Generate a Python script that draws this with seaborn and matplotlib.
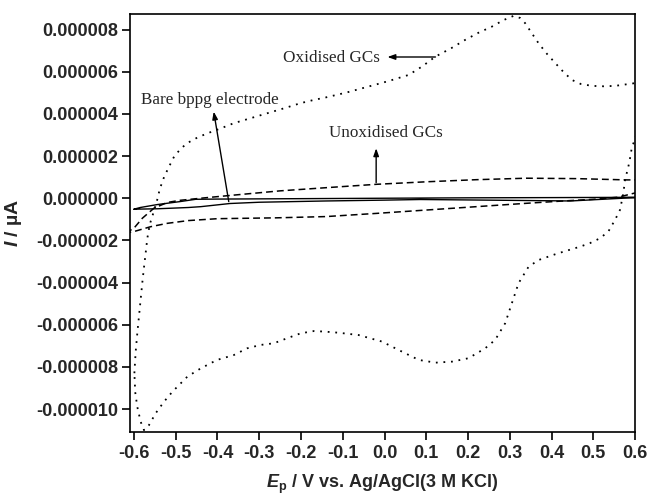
import numpy as np
import pandas as pd
import matplotlib
matplotlib.use("Agg")
import matplotlib.pyplot as plt
import seaborn as sns

# Cyclic voltammograms, potential E (V) and current I (A, values given in µA units)
# Oxidised GCs (dotted loop)
ox_e = [-0.599, -0.596, -0.592, -0.586, -0.580, -0.575, -0.572, -0.568, -0.564, -0.560,
        -0.552, -0.544, -0.538, -0.528, -0.516, -0.504, -0.488, -0.472, -0.448, -0.424,
        -0.390, -0.361, -0.320, -0.281, -0.240, -0.201, -0.170, -0.141, -0.090, -0.038,
        0.010, 0.058, 0.090, 0.122, 0.160, 0.193, 0.225, 0.257, 0.285, 0.309,
        0.325, 0.337, 0.352, 0.369, 0.389, 0.409, 0.429, 0.449, 0.470, 0.497,
        0.525, 0.552, 0.578, 0.600, 0.625, 0.625,
        0.600, 0.596, 0.592, 0.588, 0.584, 0.576, 0.572, 0.564, 0.552, 0.536,
        0.516, 0.492, 0.468, 0.441, 0.410, 0.369, 0.345, 0.321, 0.305, 0.289,
        0.265, 0.241, 0.201, 0.162, 0.122, 0.082, 0.034, -0.006, -0.062, -0.110,
        -0.141, -0.169, -0.201, -0.233, -0.265, -0.297, -0.329, -0.361, -0.401, -0.440,
        -0.472, -0.492, -0.508, -0.528, -0.548, -0.564, -0.576, -0.584, -0.592, -0.597,
        -0.599]
ox_i = [-8.3, -7.3, -6.4, -5.2, -4.0, -3.1, -2.6, -1.9, -1.45, -1.1,
        -0.6, -0.05, 0.45, 1.0, 1.5, 1.97, 2.35, 2.62, 2.88, 3.08,
        3.33, 3.56, 3.80, 4.03, 4.27, 4.51, 4.66, 4.78, 5.02, 5.30,
        5.56, 5.85, 6.25, 6.72, 7.12, 7.51, 7.85, 8.14, 8.45, 8.65,
        8.55, 8.30, 7.85, 7.35, 6.85, 6.41, 5.98, 5.61, 5.42, 5.33,
        5.31, 5.33, 5.40, 5.46, 5.50, 4.00,
        2.85, 2.60, 2.37, 1.90, 1.50, 0.87, 0.24, -0.55, -1.03, -1.58,
        -1.90, -2.13, -2.30, -2.46, -2.65, -2.93, -3.25, -4.03, -4.98, -5.93,
        -6.72, -7.12, -7.59, -7.75, -7.80, -7.67, -7.20, -6.80, -6.49, -6.38,
        -6.33, -6.30, -6.41, -6.64, -6.88, -6.96, -7.12, -7.44, -7.67, -8.07,
        -8.46, -8.86, -9.18, -9.65, -10.2, -10.76, -11.0, -10.6, -9.9, -9.2,
        -8.3]

# Unoxidised GCs (dashed loop)
unox_e = [-0.620, -0.600, -0.580, -0.552, -0.520, -0.490, -0.430, -0.360, -0.250, -0.140,
          -0.020, 0.100, 0.220, 0.340, 0.460, 0.580, 0.630,
          0.630, 0.600, 0.560, 0.500, 0.420, 0.340, 0.220, 0.100, -0.020, -0.140,
          -0.260, -0.400, -0.470, -0.520, -0.560, -0.600, -0.620]
unox_i = [-1.65, -1.42, -0.95, -0.47, -0.20, -0.10, 0.02, 0.15, 0.35, 0.50,
          0.66, 0.78, 0.88, 0.95, 0.93, 0.87, 0.87,
          0.40, 0.25, 0.05, -0.05, -0.14, -0.24, -0.40, -0.56, -0.72, -0.87,
          -0.93, -0.97, -1.06, -1.19, -1.35, -1.58, -1.65]

# Bare bppg electrode (solid loop)
bare_e = [-0.600, -0.585, -0.544, -0.490, -0.452, -0.400, -0.300, -0.200, 0.000, 0.200,
          0.400, 0.550, 0.600,
          0.600, 0.570, 0.445, 0.300, 0.086, 0.000, -0.141, -0.300, -0.370, -0.440,
          -0.470, -0.544, -0.600]
bare_i = [-0.52, -0.44, -0.30, -0.16, -0.05, -0.04, -0.03, -0.02, 0.00, 0.02,
          0.03, 0.04, 0.05,
          0.02, 0.00, -0.13, -0.10, -0.06, -0.09, -0.13, -0.19, -0.25, -0.40,
          -0.44, -0.50, -0.52]

x_ticks = [-0.6, -0.5, -0.4, -0.3, -0.2, -0.1, 0.0, 0.1, 0.2, 0.3, 0.4, 0.5, 0.6]
x_tick_labels = ["-0.6", "-0.5", "-0.4", "-0.3", "-0.2", "-0.1", "0.0",
                 "0.1", "0.2", "0.3", "0.4", "0.5", "0.6"]
y_ticks = [-10e-6, -8e-6, -6e-6, -4e-6, -2e-6, 0.0, 2e-6, 4e-6, 6e-6, 8e-6]
y_tick_labels = ["-0.000010", "-0.000008", "-0.000006", "-0.000004", "-0.000002",
                 "0.000000", "0.000002", "0.000004", "0.000006", "0.000008"]

sns.set_style("ticks")
plt.rcParams["font.family"] = ["Liberation Sans", "DejaVu Sans"]
plt.rcParams["mathtext.fontset"] = "custom"
plt.rcParams["mathtext.it"] = "Liberation Sans:italic:bold"
plt.rcParams["mathtext.rm"] = "Liberation Sans:bold"
plt.rcParams["mathtext.bf"] = "Liberation Sans:bold"

curves = pd.concat([
    pd.DataFrame({"E": ox_e, "I": np.array(ox_i) * 1e-6, "sample": "Oxidised GCs"}),
    pd.DataFrame({"E": unox_e, "I": np.array(unox_i) * 1e-6, "sample": "Unoxidised GCs"}),
    pd.DataFrame({"E": bare_e, "I": np.array(bare_i) * 1e-6, "sample": "Bare bppg electrode"}),
], ignore_index=True)

line_styles = {
    "Oxidised GCs": dict(linestyle=(0, (1, 3.2)), linewidth=1.3),
    "Unoxidised GCs": dict(linestyle=(0, (4.5, 2.6)), linewidth=1.1),
    "Bare bppg electrode": dict(linestyle="-", linewidth=1.0),
}

fig = plt.figure(figsize=(6.5, 4.96), dpi=100)
ax = fig.add_axes([0.2, 0.129, 0.777, 0.843])

for name, sub in curves.groupby("sample", sort=False):
    sns.lineplot(data=sub, x="E", y="I", sort=False, estimator=None,
                 color="black", ax=ax, **line_styles[name])

ax.set_xlim(-0.6095, 0.6)
ax.set_ylim(-11.09e-6, 8.745e-6)
ax.set_xticks(x_ticks)
ax.set_xticklabels(x_tick_labels)
ax.set_yticks(y_ticks)
ax.set_yticklabels(y_tick_labels)
for lab in ax.get_xticklabels() + ax.get_yticklabels():
    lab.set_fontweight("bold")
    lab.set_fontsize(13)
ax.tick_params(axis="both", direction="out", length=5.5, width=1.2, color="black", pad=3)
ax.tick_params(axis="x", pad=4)
for s in ax.spines.values():
    s.set_visible(True)
    s.set_linewidth(1.2)
    s.set_color("black")

ax.set_xlabel(r"$E_{\mathrm{p}}$ / V vs. Ag/AgCl(3 M KCl)", fontsize=13, fontweight="bold")
ax.set_ylabel(r"$I$ / µA", fontsize=14, fontweight="bold")
ax.xaxis.set_label_coords(0.5, -0.097)
ax.yaxis.set_label_coords(-0.21, 0.5)

serif = ["Liberation Serif", "DejaVu Serif"]
arrow = dict(arrowstyle="-|>,head_length=0.45,head_width=0.16", color="black",
             lw=1.0, shrinkA=0, shrinkB=0)

ax.text(-0.242, 6.66e-6, "Oxidised GCs", family=serif, fontsize=12.3, ha="left", va="center")
ax.annotate("", xy=(0.007, 6.70e-6), xytext=(0.122, 6.70e-6), arrowprops=arrow)

ax.text(-0.584, 4.66e-6, "Bare bppg electrode", family=serif, fontsize=12.3, ha="left", va="center")
ax.annotate("", xy=(-0.409, 4.11e-6), xytext=(-0.373, -0.16e-6), arrowprops=arrow)

ax.text(-0.134, 3.08e-6, "Unoxidised GCs", family=serif, fontsize=12.3, ha="left", va="center")
ax.annotate("", xy=(-0.020, 2.37e-6), xytext=(-0.020, 0.74e-6), arrowprops=arrow)

fig.savefig("out.png", dpi=100)
